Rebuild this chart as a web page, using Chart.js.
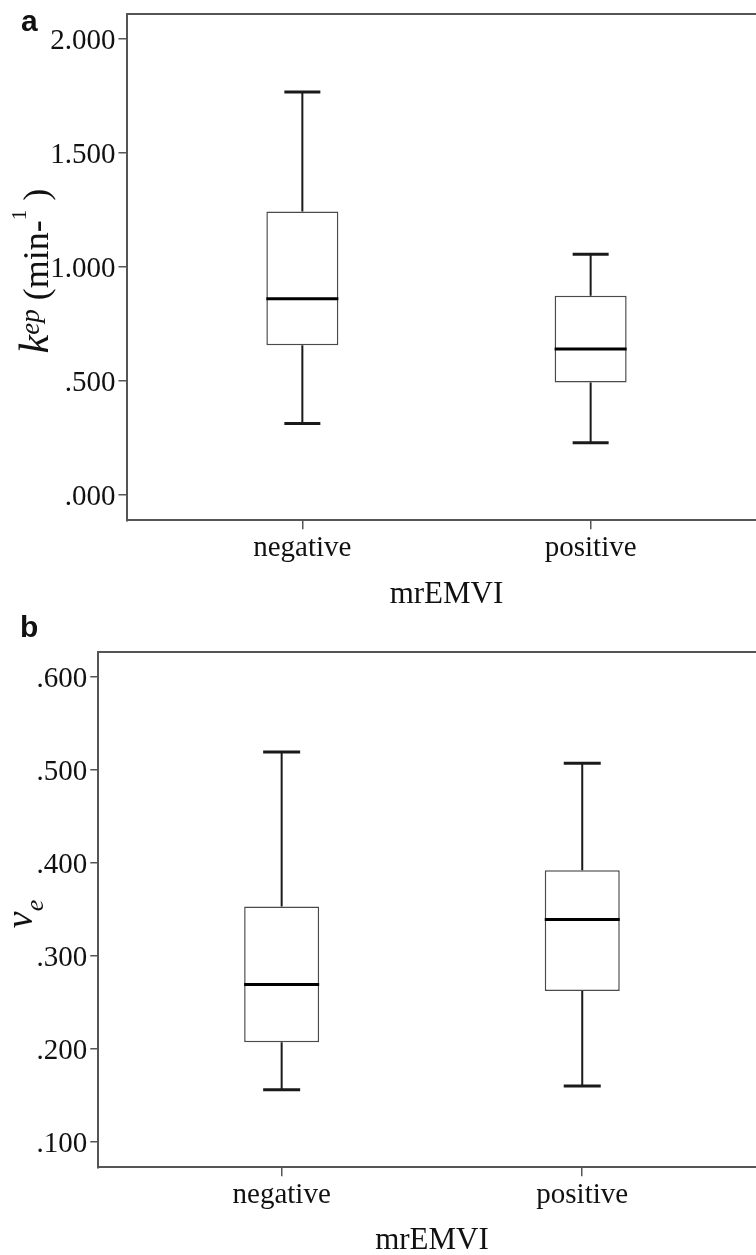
<!DOCTYPE html>
<html><head><meta charset="utf-8">
<script src="https://cdn.jsdelivr.net/npm/chart.js@4.4.1/dist/chart.umd.min.js"></script>
<style>
html,body{margin:0;padding:0;background:#fff;}
body{width:756px;height:1255px;overflow:hidden;position:relative;}
.wrap{position:absolute;left:0;width:756px;overflow:hidden;}
.panel{position:absolute;font-family:"Liberation Sans",Arial,sans-serif;font-weight:bold;font-size:30px;line-height:30px;color:#111;z-index:2;}
</style></head><body>
<div class="wrap" style="top:0;height:625px"><canvas id="chartA" width="770" height="620" style="width:770px;height:620px"></canvas></div>
<div class="wrap" style="top:630px;height:625px"><canvas id="chartB" width="770" height="650" style="width:770px;height:650px"></canvas></div>
<div class="panel" style="left:21px;top:6px">a</div>
<div class="panel" style="left:20px;top:612px">b</div>
<script>
// ---- data ----
const categories = ['negative', 'positive'];
const categoryPositions = [1, 2];

// panel a: k_ep (min-1)
const kepMin    = [0.314, 0.229];
const kepQ1     = [0.657, 0.493];
const kepMedian = [0.861, 0.640];
const kepQ3     = [1.244, 0.874];
const kepMax    = [1.768, 1.056];
const kepTickValues = [0, 0.5, 1.0, 1.5, 2.0];
const kepTickLabels = ['.000', '.500', '1.000', '1.500', '2.000'];

// panel b: v_e
const veMin    = [0.156, 0.160];
const veQ1     = [0.207, 0.262];
const veMedian = [0.269, 0.339];
const veQ3     = [0.353, 0.392];
const veMax    = [0.519, 0.507];
const veTickValues = [0.1, 0.2, 0.3, 0.4, 0.5, 0.6];
const veTickLabels = ['.100', '.200', '.300', '.400', '.500', '.600'];

const xAxisTitle = 'mrEMVI';

// ---- drawing ----
const SERIF = '"Liberation Serif", "Times New Roman", serif';
const FRAME = '#555';

const yTitlePlugin = {
  id: 'yTitle',
  afterDraw(chart, args, opts) {
    const {ctx, chartArea} = chart;
    ctx.save();
    const fontOf = s => (s.italic ? 'italic ' : '') + s.size + 'px ' + SERIF;
    let total = 0;
    const segs = opts.segments.map(s => {
      ctx.font = fontOf(s);
      const w = ctx.measureText(s.text).width;
      total += w;
      return Object.assign({}, s, {w});
    });
    const cy = (chartArea.top + chartArea.bottom) / 2 + opts.shift;
    ctx.translate(opts.x, cy);
    ctx.rotate(-Math.PI / 2);
    ctx.fillStyle = '#111';
    ctx.textBaseline = 'alphabetic';
    ctx.textAlign = 'left';
    let x = -total / 2;
    for (const s of segs) {
      ctx.font = fontOf(s);
      ctx.fillText(s.text, x, s.dy);
      x += s.w;
    }
    ctx.restore();
  }
};

function boxChart(canvasId, cfg) {
  const xs = categoryPositions;
  const pts = arr => arr.map((v, i) => ({x: xs[i], y: v}));
  const ranges = (lo, hi) => lo.map((v, i) => ({x: xs[i], y: [v, hi[i]]}));
  const tickFont = {family: SERIF, size: 29};
  const capStyle = {type: 'line', showLine: false, pointStyle: 'line', pointRadius: cfg.capW / 2,
    pointHoverRadius: cfg.capW / 2, pointBorderWidth: 3, pointBorderColor: '#1a1a1a',
    pointBackgroundColor: '#1a1a1a', order: 1};
  const whiskerStyle = {type: 'bar', backgroundColor: '#1a1a1a', borderWidth: 0,
    maxBarThickness: 2, grouped: false, order: 2};
  return new Chart(document.getElementById(canvasId), {
    type: 'bar',
    data: {datasets: [
      {type: 'line', label: 'median', data: pts(cfg.med), showLine: false, pointStyle: 'line',
        pointRadius: cfg.boxW / 2, pointHoverRadius: cfg.boxW / 2, pointBorderWidth: 3,
        pointBorderColor: '#000', pointBackgroundColor: '#000', order: 0},
      Object.assign({label: 'max', data: pts(cfg.max)}, capStyle),
      Object.assign({label: 'min', data: pts(cfg.min)}, capStyle),
      Object.assign({label: 'upper whisker', data: ranges(cfg.q3, cfg.max)}, whiskerStyle),
      Object.assign({label: 'lower whisker', data: ranges(cfg.min, cfg.q1)}, whiskerStyle),
      {type: 'bar', label: 'box', data: ranges(cfg.q1, cfg.q3), backgroundColor: '#fff',
        borderColor: '#4a4a4a', borderWidth: 1.5, borderSkipped: false,
        maxBarThickness: cfg.boxW, grouped: false, order: 3}
    ]},
    options: {
      responsive: false,
      animation: false,
      devicePixelRatio: 1,
      events: [],
      layout: {padding: cfg.padding, autoPadding: false},
      plugins: {
        legend: {display: false},
        tooltip: {enabled: false},
        yTitle: cfg.yTitle
      },
      scales: {
        x: {
          type: 'linear', min: 0.39, max: 2.61, offset: false,
          afterBuildTicks: s => { s.ticks = categoryPositions.map(v => ({value: v})); },
          afterFit: s => { s.height = cfg.bottomH; s.paddingLeft = 0; s.paddingRight = 0; },
          ticks: {callback: (v, i) => categories[i], font: tickFont, color: '#111',
            padding: 2, maxRotation: 0, autoSkip: false},
          grid: {offset: false, drawOnChartArea: false, drawTicks: true, tickLength: 9,
            tickWidth: 1.5, tickColor: FRAME, color: FRAME, lineWidth: 1.5},
          border: {display: true, color: FRAME, width: 2},
          title: {display: true, text: xAxisTitle, font: {family: SERIF, size: 31},
            color: '#111', padding: {top: 0, bottom: cfg.titlePad}}
        },
        x2: {
          type: 'linear', position: 'top', min: 0.39, max: 2.61,
          afterFit: s => { s.height = 0; s.paddingLeft = 0; s.paddingRight = 0; },
          ticks: {display: false},
          grid: {display: false, drawTicks: false},
          border: {display: true, color: FRAME, width: 2}
        },
        y: {
          type: 'linear', min: cfg.yMin, max: cfg.yMax, beginAtZero: false,
          afterBuildTicks: s => { s.ticks = cfg.tickValues.map(v => ({value: v})); },
          afterFit: s => { s.width = cfg.left; s.paddingTop = 0; s.paddingBottom = 0; },
          ticks: {callback: (v, i) => cfg.tickLabels[i], font: tickFont, color: '#111',
            padding: 3, labelOffset: 2.5, autoSkip: false},
          grid: {drawOnChartArea: false, drawTicks: true, tickLength: 8, tickWidth: 1.5,
            tickColor: FRAME, color: FRAME, lineWidth: 1.5},
          border: {display: true, color: FRAME, width: 2}
        }
      }
    },
    plugins: [yTitlePlugin]
  });
}

boxChart('chartA', {
  min: kepMin, q1: kepQ1, med: kepMedian, q3: kepQ3, max: kepMax,
  tickValues: kepTickValues, tickLabels: kepTickLabels,
  yMin: -0.111, yMax: 2.110,
  boxW: 72, capW: 36,
  left: 126.5, bottomH: 99.7, titlePad: 6.9,
  padding: {top: 14, right: 3.5, bottom: 0, left: 0},
  yTitle: {x: 48, shift: 4, segments: [
    {text: 'k', size: 42, italic: true, dy: 0},
    {text: 'ep', size: 27, italic: true, dy: -9},
    {text: ' (min-', size: 36, italic: false, dy: 0},
    {text: '1', size: 21, italic: false, dy: -22},
    {text: ' )', size: 36, italic: false, dy: 0}
  ]}
});

boxChart('chartB', {
  min: veMin, q1: veQ1, med: veMedian, q3: veQ3, max: veMax,
  tickValues: veTickValues, tickLabels: veTickLabels,
  yMin: 0.0725, yMax: 0.627,
  boxW: 75, capW: 37,
  left: 98.3, bottomH: 112.7, titlePad: 20.2,
  padding: {top: 21.7, right: 4.4, bottom: 0, left: 0},
  yTitle: {x: 32, shift: 4.5, segments: [
    {text: 'v', size: 38, italic: true, dy: 0},
    {text: 'e', size: 26, italic: true, dy: 11}
  ]}
});
</script>
</body></html>
